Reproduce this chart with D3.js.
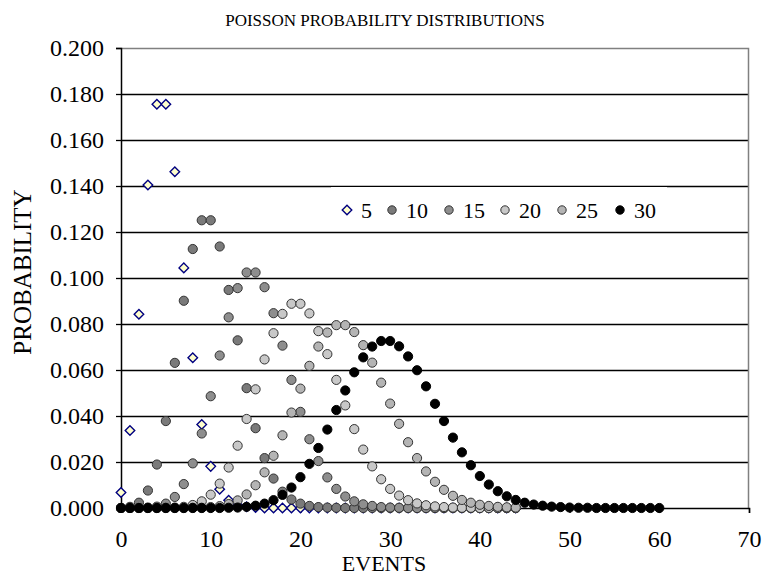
<!DOCTYPE html>
<html>
<head>
<meta charset="utf-8">
<script src="https://cdn.jsdelivr.net/npm/d3@7"></script>
<style>
  body { margin: 0; background: #fff; }
  text { font-family: "Liberation Serif", "Times New Roman", serif; fill: #000; }
</style>
</head>
<body>
<script>
// Poisson probabilities, one array per mean (index = events)
const lambdas = [5, 10, 15, 20, 25, 30];

const p5 = [0.0067, 0.0337, 0.0842, 0.1404, 0.1755, 0.1755, 0.1462, 0.1044, 0.0653, 0.0363,
  0.0181, 0.0082, 0.0034, 0.0013, 0.0005, 0.0002, 0, 0, 0, 0,
  0, 0, 0, 0, 0, 0, 0, 0, 0, 0, 0, 0, 0, 0, 0, 0, 0, 0, 0, 0, 0, 0, 0, 0, 0];
const p10 = [0, 0.0005, 0.0023, 0.0076, 0.0189, 0.0378, 0.0631, 0.0901, 0.1126, 0.1251,
  0.1251, 0.1137, 0.0948, 0.0729, 0.0521, 0.0347, 0.0217, 0.0128, 0.0071, 0.0037,
  0.0019, 0.0009, 0.0004, 0.0002, 0.0001, 0, 0, 0, 0, 0, 0, 0, 0, 0, 0, 0, 0, 0, 0, 0, 0, 0, 0, 0, 0];
const p15 = [0, 0, 0, 0.0002, 0.0006, 0.0019, 0.0048, 0.0104, 0.0194, 0.0324,
  0.0486, 0.0663, 0.0829, 0.0956, 0.1024, 0.1024, 0.0960, 0.0847, 0.0706, 0.0557,
  0.0418, 0.0299, 0.0204, 0.0133, 0.0083, 0.0050, 0.0029, 0.0016, 0.0009, 0.0004,
  0.0002, 0.0001, 0, 0, 0, 0, 0, 0, 0, 0, 0, 0, 0, 0, 0];
const p20 = [0, 0, 0, 0, 0, 0.0001, 0.0002, 0.0005, 0.0013, 0.0029,
  0.0058, 0.0106, 0.0176, 0.0271, 0.0387, 0.0516, 0.0646, 0.0760, 0.0844, 0.0888,
  0.0888, 0.0846, 0.0769, 0.0669, 0.0557, 0.0446, 0.0343, 0.0254, 0.0181, 0.0125,
  0.0083, 0.0054, 0.0034, 0.0020, 0.0012, 0.0007, 0.0004, 0.0002, 0.0001, 0.0001,
  0, 0, 0, 0, 0];
const p25 = [0, 0, 0, 0, 0, 0, 0, 0, 0.0001, 0.0001,
  0.0004, 0.0008, 0.0017, 0.0033, 0.0059, 0.0099, 0.0155, 0.0227, 0.0316, 0.0415,
  0.0519, 0.0618, 0.0702, 0.0763, 0.0795, 0.0795, 0.0765, 0.0708, 0.0632, 0.0545,
  0.0454, 0.0366, 0.0286, 0.0217, 0.0159, 0.0114, 0.0079, 0.0053, 0.0035, 0.0023,
  0.0014, 0.0009, 0.0005, 0.0003, 0.0002];
const p30 = [0, 0, 0, 0, 0, 0, 0, 0, 0, 0,
  0, 0, 0.0001, 0.0002, 0.0005, 0.0010, 0.0019, 0.0034, 0.0057, 0.0089,
  0.0134, 0.0192, 0.0261, 0.0341, 0.0426, 0.0511, 0.0590, 0.0655, 0.0702, 0.0726,
  0.0726, 0.0703, 0.0659, 0.0599, 0.0529, 0.0453, 0.0378, 0.0306, 0.0242, 0.0186,
  0.0139, 0.0102, 0.0073, 0.0051, 0.0035, 0.0023, 0.0015, 0.0010, 0.0006, 0.0004,
  0.0002, 0.0001, 0.0001, 0, 0, 0, 0, 0, 0, 0, 0];

const yTicks = [0, 0.02, 0.04, 0.06, 0.08, 0.1, 0.12, 0.14, 0.16, 0.18, 0.2];
const xTicks = [0, 10, 20, 30, 40, 50, 60, 70];

const seriesValues = [p5, p10, p15, p20, p25, p30];
const fills = ['#ffffcc', '#7a7a7a', '#8e8e8e', '#c8c8c8', '#b4b4b4', '#000000'];
const strokes = ['#000080', '#333333', '#333333', '#333333', '#333333', '#000000'];

const width = 763;
const height = 577;
const margin = { top: 48, right: 14, bottom: 69, left: 121 };
const plotW = width - margin.left - margin.right;
const plotH = height - margin.top - margin.bottom;

const svg = d3.select('body').append('svg')
  .attr('width', width)
  .attr('height', height);

const x = d3.scaleLinear().domain([0, 70]).range([0, plotW]);
const y = d3.scaleLinear().domain([0, 0.2]).range([plotH, 0]);

svg.append('text')
  .attr('x', 385)
  .attr('y', 26)
  .attr('text-anchor', 'middle')
  .style('font-size', '17px')
  .text('POISSON PROBABILITY DISTRIBUTIONS');

const g = svg.append('g')
  .attr('transform', `translate(${margin.left},${margin.top})`);

// gridlines
g.append('g')
  .selectAll('line')
  .data(yTicks.filter(d => d > 0 && d < 0.2))
  .join('line')
  .attr('x1', 0)
  .attr('x2', plotW)
  .attr('y1', d => Math.round(y(d)) + 0.5)
  .attr('y2', d => Math.round(y(d)) + 0.5)
  .attr('stroke', '#000')
  .attr('stroke-width', 1.3);

// frame top and right
g.append('path')
  .attr('d', `M0,0.5H${plotW - 0.5}V${plotH}`)
  .attr('fill', 'none')
  .attr('stroke', '#808080')
  .attr('stroke-width', 1.5);

// axes
const yAxis = g.append('g')
  .call(d3.axisLeft(y).tickValues(yTicks).tickSize(5).tickPadding(12).tickFormat(d3.format('.3f')));
const xAxis = g.append('g')
  .attr('transform', `translate(0,${plotH})`)
  .call(d3.axisBottom(x).tickValues(xTicks).tickSize(5).tickPadding(17).tickFormat(d3.format('d')));

[yAxis, xAxis].forEach(ax => {
  ax.select('.domain').attr('stroke', '#000').attr('stroke-width', 1.5);
  ax.selectAll('.tick line').attr('stroke', '#000').attr('stroke-width', 1.3);
  ax.selectAll('.tick text')
    .style('font-family', '"Liberation Serif", "Times New Roman", serif')
    .style('font-size', '24px')
    .attr('fill', '#000');
});

// axis titles
svg.append('text')
  .attr('x', 384)
  .attr('y', 571)
  .attr('text-anchor', 'middle')
  .style('font-size', '22px')
  .text('EVENTS');

svg.append('text')
  .attr('transform', 'translate(31,272) rotate(-90)')
  .attr('text-anchor', 'middle')
  .style('font-size', '25px')
  .text('PROBABILITY');

// legend box (white, hides grid behind it)
const legend = svg.append('g').attr('transform', 'translate(331,187)');
legend.append('rect')
  .attr('width', 336)
  .attr('height', 42)
  .attr('fill', '#fff');

const diamond = d3.symbol().type(d3.symbolDiamond2).size(58);
const legendX = [16, 61, 118, 174, 231, 289];

lambdas.forEach((lam, i) => {
  const item = legend.append('g').attr('transform', `translate(${legendX[i]},23)`);
  if (i === 0) {
    item.append('path')
      .attr('d', diamond)
      .attr('fill', fills[i])
      .attr('stroke', strokes[i])
      .attr('stroke-width', 1.4);
  } else {
    item.append('circle')
      .attr('r', 4.2)
      .attr('fill', fills[i])
      .attr('stroke', strokes[i])
      .attr('stroke-width', 1);
  }
  item.append('text')
    .attr('x', 14)
    .attr('y', 8)
    .style('font-size', '22px')
    .text(lam);
});

// points
seriesValues.forEach((vals, i) => {
  const layer = g.append('g');
  const pts = vals.map((v, k) => ({ k, v }));
  if (i === 0) {
    layer.selectAll('path')
      .data(pts)
      .join('path')
      .attr('transform', d => `translate(${x(d.k)},${y(d.v)})`)
      .attr('d', diamond)
      .attr('fill', fills[i])
      .attr('stroke', strokes[i])
      .attr('stroke-width', 1.4);
  } else {
    layer.selectAll('circle')
      .data(pts)
      .join('circle')
      .attr('cx', d => x(d.k))
      .attr('cy', d => y(d.v))
      .attr('r', 4.6)
      .attr('fill', fills[i])
      .attr('stroke', strokes[i])
      .attr('stroke-width', 1);
  }
});
</script>
</body>
</html>
